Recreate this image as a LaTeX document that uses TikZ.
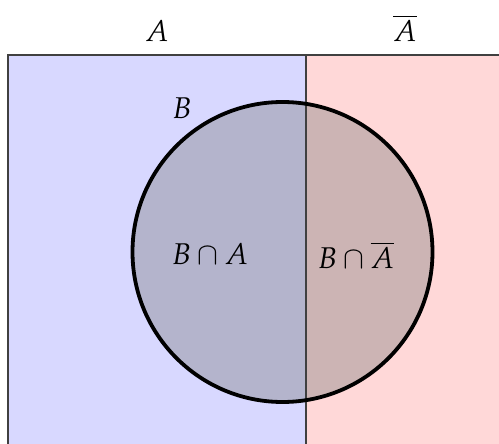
\documentclass[tikz,border=0pt]{standalone}
\usepackage{mathpazo}
\begin{document}
\begin{tikzpicture}[x=1pt,y=-1pt,
  lbl/.style={inner sep=0pt,font=\fontsize{30}{36}\selectfont}]
\definecolor{blueA}{HTML}{D8D8FF}
\definecolor{pinkA}{HTML}{FFD8D8}
\definecolor{blueB}{HTML}{B4B4CC}
\definecolor{pinkB}{HTML}{CCB4B4}
\useasboundingbox (0,0) rectangle (499,444);
\clip (0,0) rectangle (499,444);
\fill[blueA] (8,55) rectangle (306,460);
\fill[pinkA] (306,55) rectangle (510,460);
\begin{scope}
  \clip (282.5,252) circle (150);
  \fill[blueB] (100,90) rectangle (306,420);
  \fill[pinkB] (306,90) rectangle (450,420);
\end{scope}
\draw[line width=1.8pt,draw=black!75] (510,55) -- (8,55) -- (8,460);
\draw[line width=1.6pt,draw=black!75] (306,55) -- (306,460);
\draw[line width=3.8pt] (282.5,252) circle (150);
\node[lbl] (a) at (157,31) {$A$};
\node[lbl] (na) at (405,28) {$\overline{A}$};
\node[lbl] (b) at (182,108) {$B$};
\node[lbl] (ba) at (210,254) {$B\cap A$};
\node[lbl] (bna) at (356,255) {$B\cap\overline{A}$};
\end{tikzpicture}
\end{document}
